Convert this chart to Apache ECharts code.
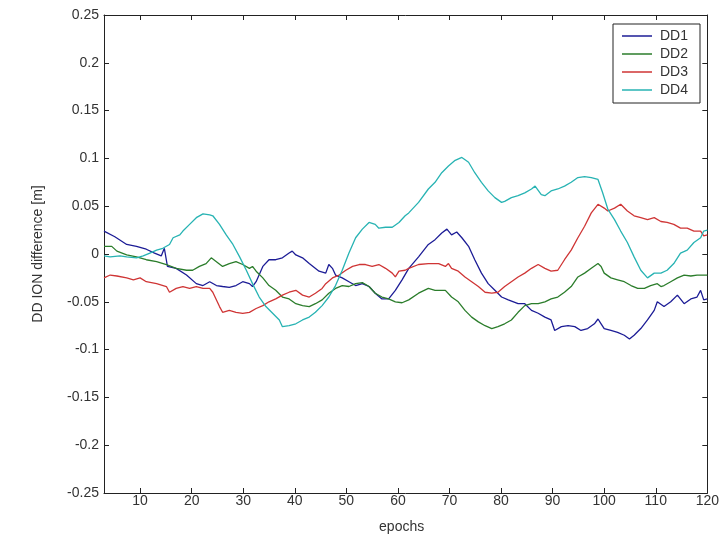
<!DOCTYPE html>
<html>
<head>
<meta charset="utf-8">
<script src="https://cdn.jsdelivr.net/npm/echarts@6/dist/echarts.min.js"></script>
<style>
  html, body { margin: 0; padding: 0; background: #fff; }
  #main { width: 722px; height: 540px; }
</style>
</head>
<body>
<div id="main"></div>
<script>
// tick positions on the epoch axis
var epochTicks = [10, 20, 30, 40, 50, 60, 70, 80, 90, 100, 110, 120];
var seriesNames = ['DD1', 'DD2', 'DD3', 'DD4'];

// [epoch, DD ION difference (m)]
var dd1 = [[3,0.024],[5.1,0.018],[7.4,0.010],[9.3,0.008],[11.2,0.005],[12.8,0.001],[14.1,-0.002],[14.7,0.006],[15.3,-0.013],
  [17,-0.015],[19,-0.022],[20.9,-0.031],[22.2,-0.033],[23.5,-0.029],[24.8,-0.033],[26,-0.034],[27.3,-0.035],[28.6,-0.033],
  [29.9,-0.029],[31.2,-0.031],[31.8,-0.034],[32.5,-0.029],[33.8,-0.013],[35,-0.006],[36.3,-0.006],[37.6,-0.004],[38.9,0.001],
  [39.5,0.003],[40.2,-0.001],[41.5,-0.004],[42.8,-0.010],[44.7,-0.018],[46,-0.020],[46.6,-0.011],[47.3,-0.015],[47.9,-0.022],
  [49.2,-0.025],[50.5,-0.029],[51.8,-0.033],[53.1,-0.031],[54.4,-0.034],[55.6,-0.041],[56.9,-0.047],[58.2,-0.047],[59.5,-0.038],
  [60.8,-0.027],[62.1,-0.015],[64,-0.003],[65.9,0.010],[67.2,0.015],[68.5,0.022],[69.5,0.026],[70.4,0.020],[71.4,0.023],
  [72.4,0.017],[73.7,0.008],[74.9,-0.006],[76.2,-0.020],[77.5,-0.031],[78.8,-0.038],[80.1,-0.045],[81.4,-0.048],[83.3,-0.052],
  [84.6,-0.052],[85.9,-0.059],[87.2,-0.062],[88.5,-0.066],[89.7,-0.069],[90.4,-0.080],[91.7,-0.076],[93,-0.075],[94.3,-0.076],
  [95.5,-0.080],[96.8,-0.078],[98.1,-0.073],[98.8,-0.068],[99.4,-0.073],[100,-0.078],[101.3,-0.080],[102.6,-0.082],[103.9,-0.085],
  [104.9,-0.089],[105.8,-0.085],[107.1,-0.078],[108.4,-0.069],[109.7,-0.059],[110.3,-0.050],[111.6,-0.055],[112.9,-0.050],
  [114.2,-0.043],[115.5,-0.052],[116.8,-0.047],[118,-0.045],[118.7,-0.038],[119.3,-0.048],[120,-0.047]];

var dd2 = [[3,0.008],[4.5,0.008],[5.5,0.003],[7.4,-0.001],[9.3,-0.003],[11.2,-0.006],[13.2,-0.008],[15.1,-0.011],[17,-0.015],
  [19,-0.017],[20.2,-0.017],[21.5,-0.013],[22.8,-0.010],[23.8,-0.004],[24.8,-0.008],[26,-0.013],[27.3,-0.010],[28.6,-0.008],
  [29.9,-0.011],[31.2,-0.015],[31.8,-0.013],[32.5,-0.018],[33.8,-0.025],[35,-0.033],[36.3,-0.038],[37.6,-0.045],[38.9,-0.047],
  [40.2,-0.052],[41.5,-0.054],[42.8,-0.055],[44,-0.052],[45.3,-0.048],[46.6,-0.041],[47.9,-0.036],[49.2,-0.033],[50.5,-0.034],
  [51.8,-0.031],[53.1,-0.030],[54.4,-0.034],[55.6,-0.041],[56.9,-0.045],[58.2,-0.047],[59.5,-0.050],[60.8,-0.051],[62.1,-0.048],
  [64,-0.041],[65.9,-0.036],[67.2,-0.038],[69.2,-0.038],[70.4,-0.045],[71.7,-0.050],[73,-0.059],[74.3,-0.066],[75.6,-0.071],
  [76.9,-0.075],[78.2,-0.078],[79.4,-0.076],[80.7,-0.073],[82,-0.069],[83.3,-0.061],[84.6,-0.054],[85.9,-0.052],[87.2,-0.052],
  [88.5,-0.050],[89.7,-0.047],[91,-0.045],[92.3,-0.040],[93.6,-0.034],[94.9,-0.024],[96.2,-0.020],[97.5,-0.015],[98.8,-0.010],
  [99.4,-0.013],[100,-0.020],[101.3,-0.025],[102.6,-0.027],[103.9,-0.029],[105.2,-0.033],[106.5,-0.036],[107.8,-0.036],
  [109,-0.033],[110.3,-0.031],[111,-0.034],[111.6,-0.033],[112.9,-0.029],[114.2,-0.025],[115.5,-0.022],[116.8,-0.023],
  [118,-0.022],[120,-0.022]];

var dd3 = [[3,-0.025],[4.2,-0.022],[5.5,-0.023],[7.4,-0.025],[8.7,-0.027],[10,-0.025],[11.2,-0.029],[13.2,-0.031],[15.1,-0.034],
  [15.7,-0.040],[17,-0.036],[18.3,-0.034],[19.6,-0.036],[20.9,-0.034],[22.2,-0.036],[23.5,-0.036],[24.1,-0.040],[25.4,-0.055],
  [26,-0.061],[27.3,-0.059],[28.6,-0.061],[29.9,-0.062],[31.2,-0.061],[32.5,-0.057],[33.8,-0.054],[35,-0.050],[36.3,-0.047],
  [37.6,-0.043],[38.9,-0.040],[40.2,-0.038],[41.5,-0.043],[42.8,-0.045],[44,-0.041],[45.3,-0.036],[46,-0.031],[47.3,-0.025],
  [48.6,-0.022],[49.9,-0.017],[51.2,-0.013],[52.5,-0.011],[53.7,-0.011],[55,-0.013],[56.3,-0.011],[57.6,-0.015],[58.9,-0.020],
  [59.5,-0.024],[60.2,-0.018],[61.4,-0.017],[62.1,-0.015],[64,-0.011],[65.9,-0.010],[67.9,-0.010],[69.2,-0.013],[69.8,-0.010],
  [70.4,-0.015],[71.7,-0.018],[73,-0.024],[74.3,-0.029],[75.6,-0.034],[76.9,-0.040],[78.2,-0.041],[79.4,-0.040],[80.7,-0.034],
  [82,-0.029],[83.3,-0.024],[84.6,-0.020],[85.9,-0.015],[87.2,-0.011],[88.5,-0.015],[89.7,-0.018],[91,-0.017],[92.3,-0.006],
  [93.6,0.004],[94.9,0.017],[96.2,0.029],[97.5,0.043],[98.8,0.052],[100,0.048],[100.7,0.045],[102,0.048],[103.2,0.052],
  [104.5,0.045],[105.8,0.040],[107.1,0.038],[108.4,0.036],[109.7,0.038],[111,0.034],[112.2,0.033],[113.5,0.031],[114.8,0.027],
  [116.1,0.027],[117.4,0.024],[118.7,0.024],[119.3,0.019],[120,0.020]];

var dd4 = [[3,-0.002],[4.2,-0.003],[6.1,-0.002],[7.4,-0.003],[9.3,-0.004],[10.6,-0.002],[11.9,0.001],[13.2,0.004],[14.4,0.006],
  [15.7,0.010],[16.4,0.017],[17.7,0.020],[18.3,0.024],[19.6,0.031],[20.9,0.038],[22.2,0.042],[23.5,0.041],[24.1,0.040],
  [25.4,0.031],[26.7,0.020],[28,0.010],[29.3,-0.003],[30.6,-0.017],[31.8,-0.031],[33.1,-0.045],[34.4,-0.055],[35.7,-0.062],
  [37,-0.069],[37.6,-0.076],[38.9,-0.075],[40.2,-0.073],[41.5,-0.069],[42.8,-0.066],[44,-0.061],[45.3,-0.054],[46.6,-0.045],
  [47.9,-0.033],[49.2,-0.017],[50.5,0.001],[51.8,0.017],[53.1,0.026],[54.4,0.033],[55.6,0.031],[56.3,0.027],[57.6,0.028],
  [58.9,0.028],[60.2,0.033],[61.4,0.040],[62.1,0.043],[64,0.054],[65.9,0.068],[67.2,0.075],[68.5,0.085],[69.8,0.092],
  [71.1,0.098],[72.4,0.101],[73.7,0.096],[74.9,0.085],[76.2,0.075],[77.5,0.066],[78.8,0.059],[80.1,0.054],[80.7,0.055],
  [82,0.059],[83.3,0.061],[84.6,0.064],[85.9,0.068],[86.6,0.071],[87.8,0.062],[88.5,0.061],[89.7,0.066],[91,0.068],
  [92.3,0.071],[93.6,0.075],[94.9,0.080],[96.2,0.081],[97.5,0.080],[98.8,0.078],[99.7,0.064],[100.7,0.047],[102,0.036],
  [103.2,0.024],[104.5,0.012],[105.8,-0.003],[107.1,-0.017],[108.4,-0.025],[109.7,-0.020],[111,-0.020],[112.2,-0.017],
  [113.5,-0.010],[114.8,0.001],[116.1,0.004],[117.4,0.012],[118.7,0.017],[119.3,0.024],[120,0.025]];

var colors = ['#1c1c96', '#2b7d2b', '#cf3535', '#27b3b3'];
var allData = [dd1, dd2, dd3, dd4];

var FONT = 'Liberation Sans';
var TXT = '#333';
var chart = echarts.init(document.getElementById('main'));

var axisLineStyle = { color: '#222', width: 1 };

var series = [];
for (var i = 0; i < seriesNames.length; i++) {
    series.push({
        name: seriesNames[i],
        type: 'line',
        data: allData[i],
        showSymbol: false,
        symbol: 'none',
        animation: false,
        lineStyle: { color: colors[i], width: 1.3 },
        itemStyle: { color: colors[i] }
    });
}

var yFmt = function (v) {
    return String(Number(v.toFixed(2)));
};

chart.setOption({
    backgroundColor: '#fff',
    animation: false,
    grid: { left: 104, right: 12, top: 15, bottom: 47, containLabel: false },
    legend: {
        data: seriesNames,
        orient: 'vertical',
        left: 613,
        top: 24,
        padding: [5, 12, 6, 9],
        itemGap: 4,
        itemWidth: 30,
        itemHeight: 1.5,
        icon: 'rect',
        backgroundColor: '#fff',
        borderColor: '#222',
        borderWidth: 1,
        borderRadius: 0,
        textStyle: { fontFamily: FONT, fontSize: 14, color: TXT, padding: [0, 0, 0, 3] }
    },
    xAxis: [{
        type: 'value',
        min: 3,
        max: 120,
        position: 'bottom',
        name: 'epochs',
        nameLocation: 'middle',
        nameGap: 27,
        nameTextStyle: { fontFamily: FONT, fontSize: 14, color: TXT, padding: [0, 8, 0, 0] },
        axisLine: { show: true, onZero: false, lineStyle: axisLineStyle },
        axisTick: { show: true, inside: true, length: 5, customValues: epochTicks, lineStyle: axisLineStyle },
        axisLabel: { customValues: epochTicks, margin: 1, fontFamily: FONT, fontSize: 14, color: TXT },
        splitLine: { show: false }
    }, {
        type: 'value',
        min: 3,
        max: 120,
        position: 'top',
        axisLine: { show: true, onZero: false, lineStyle: axisLineStyle },
        axisTick: { show: true, inside: true, length: 5, customValues: epochTicks, lineStyle: axisLineStyle },
        axisLabel: { show: false },
        splitLine: { show: false }
    }],
    yAxis: [{
        type: 'value',
        min: -0.25,
        max: 0.25,
        interval: 0.05,
        position: 'left',
        name: 'DD ION difference [m]',
        nameLocation: 'middle',
        nameGap: 59,
        nameTextStyle: { fontFamily: FONT, fontSize: 14, color: TXT },
        axisLine: { show: true, onZero: false, lineStyle: axisLineStyle },
        axisTick: { show: true, inside: true, length: 5, lineStyle: axisLineStyle },
        axisLabel: { formatter: yFmt, margin: 5, fontFamily: FONT, fontSize: 14, color: TXT },
        splitLine: { show: false }
    }, {
        type: 'value',
        min: -0.25,
        max: 0.25,
        interval: 0.05,
        position: 'right',
        axisLine: { show: true, onZero: false, lineStyle: axisLineStyle },
        axisTick: { show: true, inside: true, length: 5, lineStyle: axisLineStyle },
        axisLabel: { show: false },
        splitLine: { show: false }
    }],
    series: series
});
</script>
</body>
</html>
